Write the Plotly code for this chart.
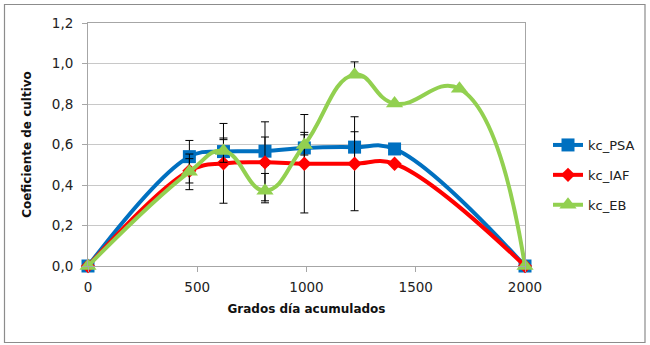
import plotly.graph_objects as go

# Data
gd = [0, 464, 620, 810, 990, 1220, 1403, 2000]
gd_eb = [0, 464, 620, 810, 990, 1220, 1403, 1700, 2000]

kc_psa = [0, 0.54, 0.565, 0.567, 0.583, 0.587, 0.578, 0]
kc_iaf = [0, 0.47, 0.507, 0.512, 0.505, 0.505, 0.505, 0]
kc_eb = [0, 0.465, 0.568, 0.372, 0.598, 0.945, 0.802, 0.875, 0]

err_psa = [None, 0.08, 0.067, 0.07, 0.077, 0.076, None, None]
err_iaf = [None, 0.06, 0.197, 0.2, 0.243, 0.232, None, None]
err_eb_plus = [None, 0.088, 0.056, 0.085, 0.05, 0.063, None, None, None]
err_eb_minus = [None, 0.088, 0.056, 0.05, 0.05, 0.0, None, None, None]

y_ticks = [0, 0.2, 0.4, 0.6, 0.8, 1.0, 1.2]
x_ticks = [0, 500, 1000, 1500, 2000]

FONT = "DejaVu Sans"

fig = go.Figure()

def eb(arr, arrm=None):
    d = dict(type="data", array=arr, visible=True, color="black",
             thickness=1, width=4)
    if arrm is not None:
        d["symmetric"] = False
        d["arrayminus"] = arrm
    return d

fig.add_trace(go.Scatter(
    x=gd, y=kc_psa, name="kc_PSA", mode="lines+markers",
    line=dict(color="#0070C0", width=4, shape="spline", smoothing=1.1),
    marker=dict(symbol="square", size=13, color="#0070C0"),
    error_y=eb(err_psa), cliponaxis=False, legendgroup="a"))
fig.add_trace(go.Scatter(
    x=gd, y=kc_iaf, name="kc_IAF", mode="lines+markers",
    line=dict(color="#FF0000", width=4, shape="spline", smoothing=1.1),
    marker=dict(symbol="diamond", size=11, color="#FF0000"),
    error_y=eb(err_iaf), cliponaxis=False, legendgroup="b"))
fig.add_trace(go.Scatter(
    x=gd_eb, y=kc_eb, name="kc_EB", mode="lines+markers",
    line=dict(color="#92D050", width=4, shape="spline", smoothing=1.3),
    marker=dict(symbol="triangle-up", size=15, color="#92D050"),
    error_y=eb(err_eb_plus, err_eb_minus), cliponaxis=False, legendgroup="c"))

# plot area pixel geometry
L, R, T, B = 88, 125, 23, 79
W, H = 650, 345
pw, ph = W - L - R, H - T - B

def px_x(p):
    return (p - L) / pw

def px_y(p):
    return (H - B - p) / ph

fig.add_shape(type="rect", xref="paper", yref="paper",
              x0=px_x(4.5), x1=px_x(645), y0=px_y(342.5), y1=px_y(4.5),
              line=dict(color="#8c8c8c", width=1.2), layer="below")

fig.update_layout(
    width=W, height=H,
    margin=dict(l=L, r=R, t=T, b=B, autoexpand=False),
    paper_bgcolor="white", plot_bgcolor="white",
    separators=",.",
    font=dict(family=FONT, size=13, color="#222222"),
    showlegend=True,
    legend=dict(x=px_x(548), y=px_y(175), xanchor="left", yanchor="middle",
                font=dict(family=FONT, size=13, color="#222222"),
                tracegroupgap=10, bgcolor="rgba(0,0,0,0)"),
    xaxis=dict(range=[0, 2000], tickvals=x_ticks, showgrid=False,
               showline=True, linecolor="#a6a6a6", linewidth=1, mirror=True,
               ticks="outside", ticklen=5, tickcolor="#a6a6a6",
               ticklabelstandoff=4, zeroline=False, automargin=False,
               tickfont=dict(size=13.5),
               title=dict(text="<b>Grados día acumulados</b>",
                          font=dict(family=FONT, size=12, color="#111111"),
                          standoff=10)),
    yaxis=dict(range=[0, 1.2], tickvals=y_ticks, tickformat=".1f",
               showgrid=True, gridcolor="#c8c8c8", gridwidth=1,
               showline=True, linecolor="#a6a6a6", linewidth=1, mirror=True,
               ticks="outside", ticklen=5, tickcolor="#a6a6a6",
               ticklabelstandoff=6, zeroline=False, automargin=False,
               tickfont=dict(size=13.5),
               title=dict(text="<b>Coeficiente de cultivo</b>",
                          font=dict(family=FONT, size=12, color="#111111"),
                          standoff=17)),
)

fig.write_html("out.html",
               config={"displayModeBar": False},
               post_script="document.body.style.margin='0px';"
                           "document.body.style.overflow='hidden';")
